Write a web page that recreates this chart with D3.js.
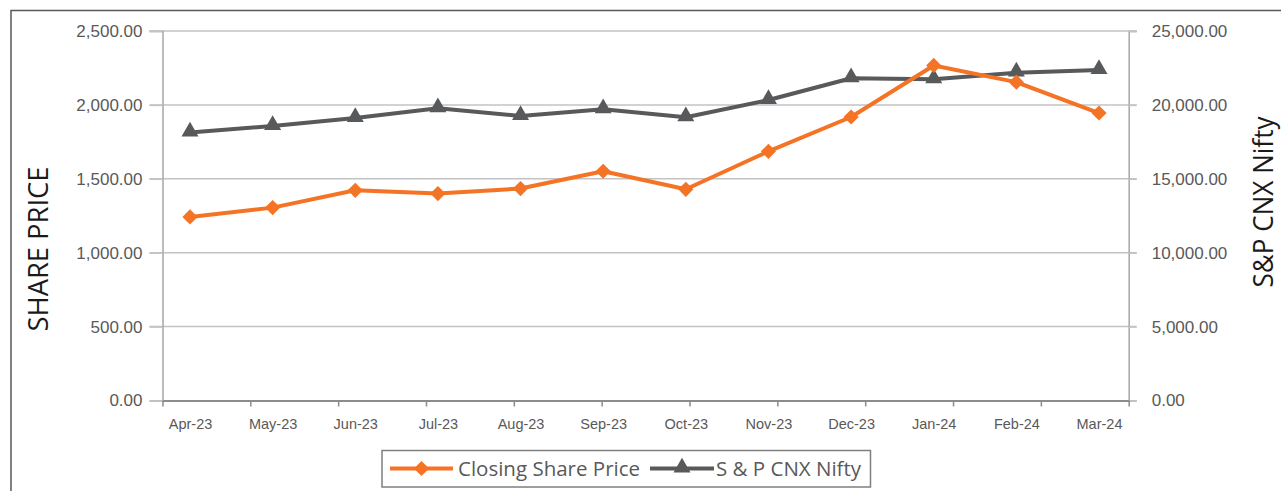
<!DOCTYPE html>
<html>
<head>
<meta charset="utf-8">
<script src="https://cdn.jsdelivr.net/npm/d3@7"></script>
<style>
  body { margin: 0; background: #fff; }
  svg { display: block; font-family: "Open Sans", sans-serif; }
</style>
</head>
<body>
<svg id="svg" width="1281" height="491"></svg>
<script>
// data
var months = ["Apr-23","May-23","Jun-23","Jul-23","Aug-23","Sep-23","Oct-23","Nov-23","Dec-23","Jan-24","Feb-24","Mar-24"];
var sharePrice = [1242, 1305, 1422, 1400, 1434, 1551, 1429, 1686, 1918, 2267, 2154, 1945];
var nifty = [18130, 18570, 19110, 19770, 19250, 19700, 19160, 20330, 21800, 21730, 22180, 22360];
var leftTicks = [0, 500, 1000, 1500, 2000, 2500];
var rightTicks = [0, 5000, 10000, 15000, 20000, 25000];

var orange = "#f47324", grey = "#58595b", textCol = "#595959";

var plot = {left: 162.5, right: 1128.7, top: 31, bottom: 400.5};

const svg = d3.select("#svg");

// chart frame
svg.append("path")
  .attr("d", "M11,495V10.5H1290")
  .attr("fill", "none")
  .attr("stroke", "#595959")
  .attr("stroke-width", 1.5);

var x = d3.scalePoint().domain(months).range([190, 1099]);
var xTick = d3.scaleLinear().domain([0, months.length - 1]).range([plot.left, plot.right]);
var yL = d3.scaleLinear().domain([0, 2500]).range([plot.bottom, plot.top]);
var yR = d3.scaleLinear().domain([0, 25000]).range([plot.bottom, plot.top]);

var fmt = d3.format(",.2f");

// gridlines
svg.append("g").selectAll("line")
  .data(leftTicks.slice(1))
  .enter().append("line")
    .attr("x1", plot.left - 13).attr("x2", plot.right + 8)
    .attr("y1", d => yL(d)).attr("y2", d => yL(d))
    .attr("stroke", "#c3c3c6").attr("stroke-width", 1.5);

// left axis
var gl = svg.append("g")
  .attr("transform", "translate(" + plot.left + ",0)")
  .call(d3.axisLeft(yL).tickValues(leftTicks).tickFormat(fmt).tickSize(13).tickPadding(7));
gl.select(".domain").attr("stroke", "#a6a6a6").attr("stroke-width", 1.5);
gl.selectAll(".tick line").attr("stroke", "#c3c3c6").attr("stroke-width", 1.5);
gl.selectAll("text").attr("fill", textCol).style("font-size", "17px");

// right axis
var gr = svg.append("g")
  .attr("transform", "translate(" + plot.right + ",0)")
  .call(d3.axisRight(yR).tickValues(rightTicks).tickFormat(fmt).tickSize(8).tickPadding(15));
gr.select(".domain").attr("stroke", "#a6a6a6").attr("stroke-width", 1.5);
gr.selectAll(".tick line").attr("stroke", "#c3c3c6").attr("stroke-width", 1.5);
gr.selectAll("text").attr("fill", textCol).style("font-size", "17px");

// bottom axis: tick marks
var gb = svg.append("g")
  .attr("transform", "translate(0," + plot.bottom + ")")
  .call(d3.axisBottom(xTick).tickValues(d3.range(months.length)).tickFormat("").tickSize(6).tickSizeOuter(0));
gb.select(".domain").attr("stroke", "#8c8c8c").attr("stroke-width", 2);
gb.selectAll(".tick line").attr("stroke", "#8c8c8c").attr("stroke-width", 1.5);

// bottom axis: labels
var gx = svg.append("g")
  .attr("transform", "translate(0," + plot.bottom + ")")
  .call(d3.axisBottom(x).tickSize(0).tickPadding(18));
gx.select(".domain").remove();
gx.selectAll("text").attr("fill", textCol).style("font-size", "14.5px");

// axis titles
svg.append("text")
  .attr("transform", "translate(48,249) rotate(-90)")
  .attr("text-anchor", "middle")
  .attr("textLength", 165).attr("lengthAdjust", "spacingAndGlyphs")
  .style("font-size", "27px").attr("fill", "#1a1a1a")
  .text("SHARE PRICE");

svg.append("text")
  .attr("transform", "translate(1273,202) rotate(-90)")
  .attr("text-anchor", "middle")
  .attr("textLength", 171).attr("lengthAdjust", "spacingAndGlyphs")
  .style("font-size", "27px").attr("fill", "#1a1a1a")
  .text("S&P CNX Nifty");

// lines
var lineL = d3.line().x((d, i) => x(months[i])).y(d => yL(d));
var lineR = d3.line().x((d, i) => x(months[i])).y(d => yR(d));

svg.append("path")
  .attr("d", lineR(nifty))
  .attr("fill", "none").attr("stroke", grey).attr("stroke-width", 4).attr("stroke-linejoin", "round");

svg.append("path")
  .attr("d", lineL(sharePrice))
  .attr("fill", "none").attr("stroke", orange).attr("stroke-width", 4).attr("stroke-linejoin", "round");

var diamond = d3.symbol().type(d3.symbolSquare).size(115);
var triangle = d3.symbol().type(d3.symbolTriangle).size(125);

svg.append("g").selectAll("path")
  .data(nifty)
  .enter().append("path")
    .attr("d", triangle)
    .attr("transform", (d, i) => "translate(" + x(months[i]) + "," + (yR(d) - 1) + ")")
    .attr("fill", grey);

svg.append("g").selectAll("path")
  .data(sharePrice)
  .enter().append("path")
    .attr("d", diamond)
    .attr("transform", (d, i) => "translate(" + x(months[i]) + "," + yL(d) + ") rotate(45)")
    .attr("fill", orange);

// legend
var legend = svg.append("g").attr("class", "legend");

legend.append("rect")
  .attr("x", 382).attr("y", 450.5)
  .attr("width", 488.5).attr("height", 36.5)
  .attr("fill", "#fff").attr("stroke", "#7f7f7f").attr("stroke-width", 1.5);

legend.append("line")
  .attr("x1", 390).attr("x2", 453).attr("y1", 468.5).attr("y2", 468.5)
  .attr("stroke", orange).attr("stroke-width", 4);
legend.append("path")
  .attr("d", diamond)
  .attr("transform", "translate(421.5,468.5) rotate(45)")
  .attr("fill", orange);
legend.append("text")
  .attr("x", 458).attr("y", 468.5).attr("dy", "0.35em")
  .style("font-size", "20.5px").attr("fill", textCol)
  .text("Closing Share Price");

legend.append("line")
  .attr("x1", 650).attr("x2", 714).attr("y1", 468.5).attr("y2", 468.5)
  .attr("stroke", grey).attr("stroke-width", 4);
legend.append("path")
  .attr("d", triangle)
  .attr("transform", "translate(682,467.5)")
  .attr("fill", grey);
legend.append("text")
  .attr("x", 716).attr("y", 468.5).attr("dy", "0.35em")
  .style("font-size", "20.5px").attr("fill", textCol)
  .text("S & P CNX Nifty");
</script>
</body>
</html>
